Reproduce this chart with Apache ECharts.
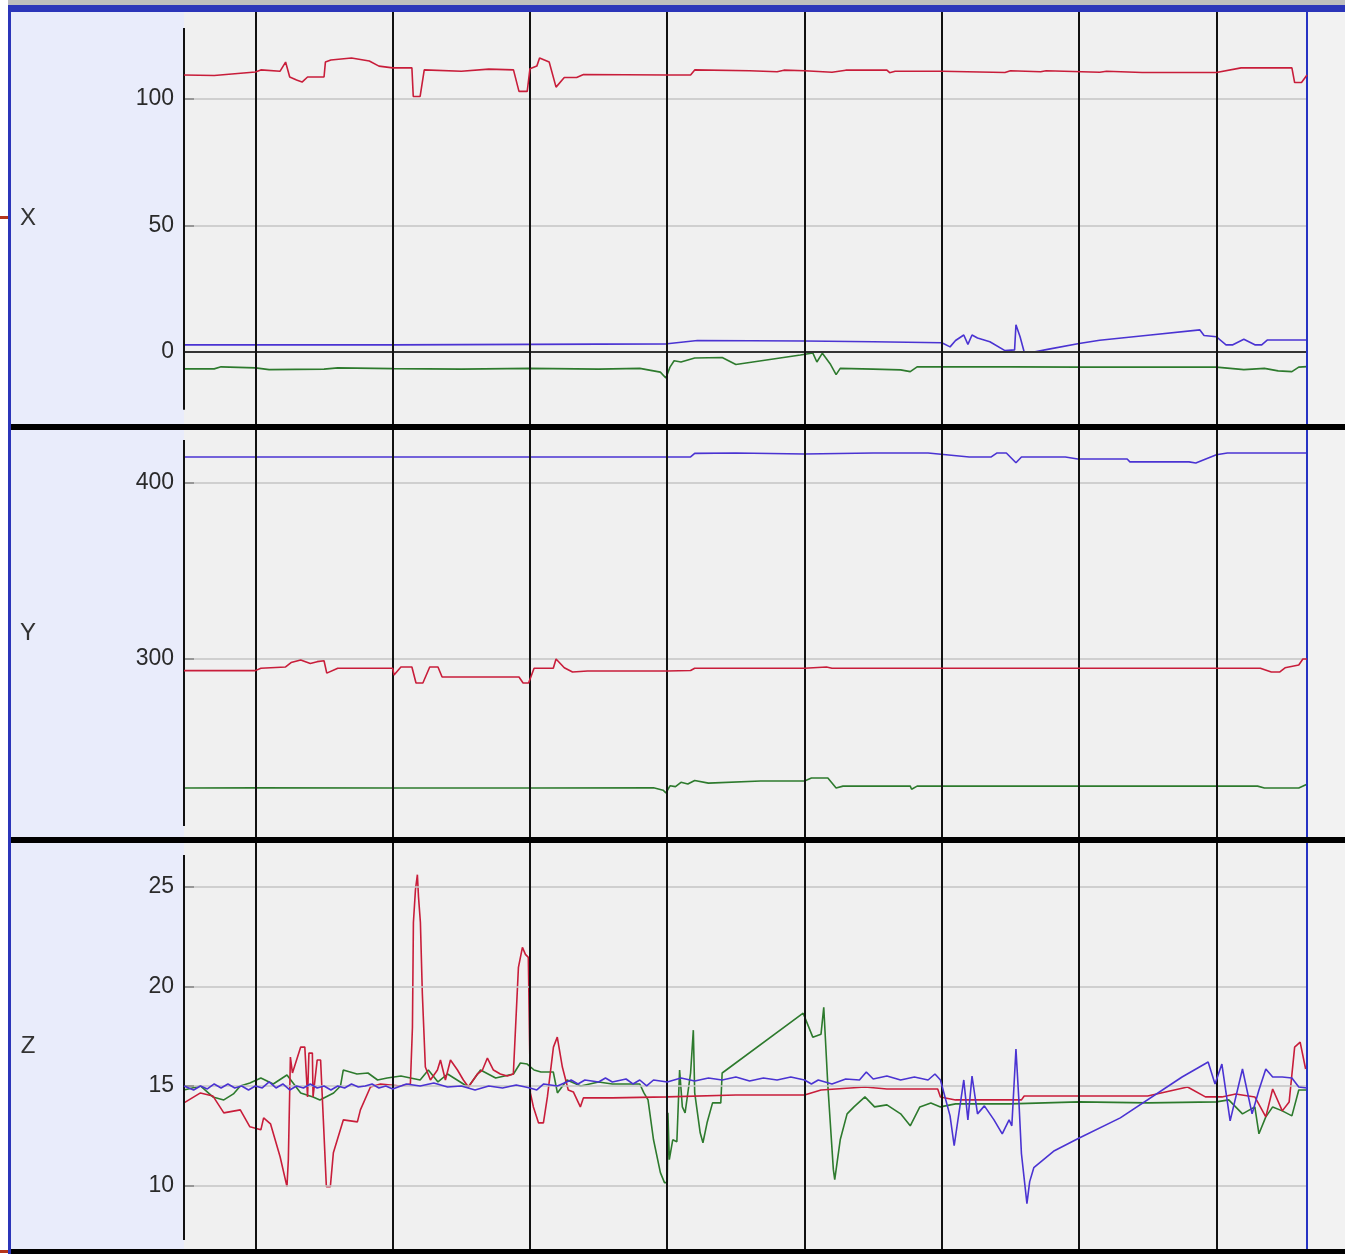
<!DOCTYPE html>
<html>
<head>
<meta charset="utf-8">
<style>
  html, body { margin: 0; padding: 0; background: #fff; }
  #chart { width: 1345px; height: 1254px; }
</style>
<script src="https://cdn.jsdelivr.net/npm/echarts@6/dist/echarts.min.js"></script>
</head>
<body>
<div id="chart"></div>
<script>
// time axis in seconds, the black marker lines sit on whole seconds
const timeMin = 0.48
const timeMax = 8.66
const markerTimes = [1, 2, 3, 4, 5, 6, 7, 8]

const panelNames = ['X', 'Y', 'Z']
const ticksX = [0, 50, 100]
const ticksY = [300, 400]
const ticksZ = [10, 15, 20, 25]

// X panel
const xRed = [[0.48,109.5],[0.7,109.3],[0.85,110],[1.0,110.7],[1.04,111.5],[1.18,111],[1.22,114.6],[1.25,108.7],[1.3,107.5],[1.34,106.7],[1.38,108.7],[1.5,108.7],[1.51,114.6],[1.55,115.4],[1.7,116.2],[1.83,115],[1.9,113],[2.0,112.3],[2.14,112.3],[2.15,101],[2.2,101],[2.23,111.5],[2.5,111],[2.7,111.8],[2.88,111.5],[2.92,103],[2.98,103],[3.0,112],[3.05,113],[3.07,116.2],[3.14,114.6],[3.19,104.7],[3.25,108.5],[3.34,108.5],[3.39,109.7],[4.0,109.5],[4.17,109.5],[4.2,111.5],[4.6,111.2],[4.8,110.8],[4.85,111.4],[5.0,111.2],[5.2,110.6],[5.3,111.4],[5.6,111.4],[5.62,110.4],[5.66,111],[6.0,111],[6.46,110.5],[6.5,111.2],[6.72,110.8],[6.76,111.2],[7.15,110.6],[7.2,111],[7.46,110.5],[8.0,110.5],[8.18,112.3],[8.55,112.3],[8.57,106.5],[8.62,106.5],[8.66,109.5]]
const xBlue = [[0.48,2.8],[2.0,2.8],[4.0,3.2],[4.22,4.5],[5.0,4.3],[5.5,4.0],[6.0,3.6],[6.06,2.0],[6.1,4.5],[6.16,6.7],[6.19,3],[6.22,6.7],[6.26,5.5],[6.35,4.0],[6.46,0.5],[6.53,0.8],[6.54,10.7],[6.57,6],[6.6,0],[6.67,0],[6.77,1],[7.0,3.3],[7.15,4.6],[7.52,6.7],[7.88,8.7],[7.91,6.5],[8.0,6.0],[8.07,2.8],[8.12,2.8],[8.2,5],[8.28,2.8],[8.33,2.8],[8.37,4.7],[8.66,4.7]]
const xGreen = [[0.48,-6.7],[0.7,-6.7],[0.75,-5.9],[1.0,-6.3],[1.1,-7],[1.5,-6.8],[1.6,-6.3],[2.0,-6.6],[2.5,-6.8],[3.0,-6.5],[3.5,-6.8],[3.8,-6.5],[3.95,-8],[3.99,-10.3],[4.02,-6],[4.05,-3.5],[4.1,-4],[4.2,-2.4],[4.4,-2.2],[4.5,-5],[4.97,-1.2],[5.06,-0.4],[5.09,-4],[5.13,-0.5],[5.19,-5],[5.23,-9],[5.26,-6.5],[5.5,-6.8],[5.7,-7.1],[5.77,-7.8],[5.82,-5.9],[6.5,-5.9],[7.0,-6],[8.0,-6],[8.2,-7],[8.35,-6.5],[8.45,-7.5],[8.55,-7.8],[8.6,-6],[8.66,-5.8]]

// Y panel
const yRed = [[0.48,293.4],[1.0,293.4],[1.04,294.8],[1.22,295.5],[1.26,298],[1.33,299.4],[1.4,297.5],[1.45,298.5],[1.5,299],[1.52,292],[1.6,294.8],[2.0,294.8],[2.01,290.9],[2.06,295.5],[2.14,295.5],[2.17,286.4],[2.22,286.4],[2.27,295.5],[2.33,295.5],[2.36,289.8],[2.92,289.8],[2.95,286.4],[2.99,286.4],[3.03,294.8],[3.17,294.8],[3.19,300],[3.25,295],[3.31,292.6],[3.42,293.2],[4.0,293.2],[4.17,293.5],[4.2,294.8],[5.0,294.8],[5.16,295.5],[5.2,294.8],[6.0,294.8],[7.0,294.8],[8.0,294.8],[8.32,294.8],[8.4,292.6],[8.46,292.6],[8.5,295],[8.6,296.6],[8.63,300],[8.66,300]]
const yBlue = [[0.48,414.8],[2.0,414.8],[3.0,414.8],[4.0,414.8],[4.17,414.8],[4.2,416.8],[4.5,417],[5.0,416.5],[5.5,417],[5.9,417],[6.2,414.8],[6.36,414.8],[6.4,417],[6.47,417],[6.54,411.5],[6.58,414.8],[6.9,414.8],[6.99,413.6],[7.35,413.6],[7.37,412],[7.8,412],[7.85,411.4],[8.0,416],[8.08,417],[8.66,417]]
const yGreen = [[0.48,226.7],[1.0,226.9],[2.0,226.7],[3.0,226.7],[3.9,226.9],[3.97,225.5],[3.99,223.9],[4.02,228],[4.06,227.5],[4.1,230],[4.15,229],[4.2,231],[4.3,229.5],[4.68,230.7],[5.0,230.7],[5.05,232.4],[5.17,232.4],[5.23,226.7],[5.28,227.8],[5.77,227.8],[5.78,226],[5.82,227.8],[8.3,227.8],[8.35,226.7],[8.6,226.7],[8.66,228.9]]

// Z panel
const zRed = [[0.48,14.15],[0.6,14.65],[0.69,14.5],[0.77,13.65],[0.89,13.8],[0.96,12.95],[1.04,12.8],[1.06,13.4],[1.11,13.1],[1.18,11.45],[1.23,9.95],[1.24,11.3],[1.255,16.45],[1.27,15.65],[1.33,16.95],[1.36,16.95],[1.38,14.45],[1.39,16.65],[1.415,16.65],[1.42,14.45],[1.45,16.3],[1.475,16.3],[1.495,13.3],[1.517,9.95],[1.546,9.95],[1.568,11.65],[1.641,13.3],[1.743,13.2],[1.765,13.8],[1.838,14.95],[1.911,15.1],[2.056,15],[2.129,15.1],[2.144,17.95],[2.151,23.2],[2.166,24.85],[2.18,25.6],[2.188,24.5],[2.202,23.2],[2.216,19.65],[2.238,15.95],[2.275,15.3],[2.326,15.8],[2.348,16.3],[2.384,15.3],[2.421,16.3],[2.472,15.8],[2.515,15.3],[2.552,14.95],[2.617,15.6],[2.654,15.8],[2.69,16.4],[2.734,15.8],[2.784,15.6],[2.835,15.5],[2.879,15.6],[2.916,20.95],[2.945,21.95],[2.967,21.6],[2.988,21.45],[3.003,14.65],[3.025,13.95],[3.062,13.15],[3.098,13.15],[3.127,14.45],[3.171,16.95],[3.199,17.45],[3.236,15.95],[3.279,14.8],[3.316,14.7],[3.367,13.95],[3.389,14.4],[3.44,14.4],[3.6,14.4],[4.0,14.45],[4.5,14.55],[5.0,14.55],[5.12,14.8],[5.44,14.95],[5.6,14.85],[5.97,14.85],[5.99,14.45],[6.1,14.3],[6.58,14.3],[6.6,14.5],[7.0,14.5],[7.5,14.5],[7.79,14.95],[7.92,14.45],[8.04,14.45],[8.14,14.6],[8.28,14.45],[8.36,13.45],[8.41,14.85],[8.48,13.75],[8.53,14.2],[8.57,16.95],[8.61,17.2],[8.65,15.85]]
const zBlue = [[0.48,15],[0.55,14.8],[0.6,15],[0.65,14.85],[0.7,15.1],[0.75,14.9],[0.8,15.1],[0.85,14.9],[0.9,15],[0.95,14.8],[1.0,15],[1.05,14.9],[1.1,15.2],[1.15,14.9],[1.2,15.1],[1.25,14.8],[1.3,15],[1.35,14.9],[1.4,15.1],[1.45,14.9],[1.5,15],[1.55,14.8],[1.6,15],[1.65,14.9],[1.7,15.1],[1.75,14.95],[1.8,15],[1.85,15.1],[1.9,14.9],[1.95,15],[2.0,14.85],[2.1,15.1],[2.2,15],[2.3,15.15],[2.4,14.95],[2.5,15],[2.6,14.8],[2.7,15],[2.8,14.9],[2.9,15.05],[3.0,14.9],[3.05,14.8],[3.1,15.1],[3.2,15],[3.3,15.3],[3.35,15.1],[3.4,15.3],[3.5,15.2],[3.55,15.4],[3.6,15.2],[3.7,15.35],[3.75,15.1],[3.8,15.3],[3.85,15],[3.9,15.3],[4.0,15.2],[4.1,15.4],[4.2,15.25],[4.3,15.4],[4.4,15.3],[4.5,15.45],[4.6,15.25],[4.7,15.4],[4.8,15.3],[4.9,15.45],[5.0,15.3],[5.05,15.1],[5.1,15.3],[5.2,15.1],[5.3,15.35],[5.4,15.3],[5.45,15.7],[5.5,15.35],[5.6,15.5],[5.7,15.3],[5.8,15.45],[5.9,15.3],[5.95,15.6],[5.99,15.3],[6.06,13.5],[6.09,12],[6.16,15.3],[6.19,13.3],[6.22,15.5],[6.26,13.6],[6.31,14],[6.38,13.3],[6.44,12.6],[6.49,13.3],[6.51,13],[6.54,16.85],[6.56,14.45],[6.58,11.6],[6.62,9.1],[6.64,10.2],[6.67,10.9],[6.82,11.75],[6.99,12.35],[7.3,13.4],[7.75,15.45],[7.94,16.2],[7.99,15.1],[8.04,16.1],[8.1,13.25],[8.19,15.85],[8.26,13.6],[8.31,14.8],[8.36,15.85],[8.41,15.45],[8.48,15.45],[8.55,15.4],[8.6,14.95],[8.66,14.9]]
const zGreen = [[0.48,14.8],[0.6,15],[0.69,14.45],[0.77,14.3],[0.84,14.6],[0.89,15],[0.96,15.15],[1.04,15.4],[1.13,15.1],[1.23,15.55],[1.28,15.1],[1.33,14.65],[1.42,14.45],[1.47,14.3],[1.57,14.65],[1.62,15],[1.64,15.8],[1.74,15.6],[1.82,15.65],[1.89,15.3],[1.96,15.4],[2.06,15.5],[2.13,15.4],[2.2,15.3],[2.26,15.8],[2.33,15.2],[2.4,15.6],[2.55,14.95],[2.64,15.8],[2.75,15.4],[2.88,15.6],[2.93,16.15],[2.98,16.1],[3.03,15.8],[3.08,15.7],[3.17,15.7],[3.2,14.65],[3.27,15.3],[3.37,15],[3.5,15.2],[3.6,15.1],[3.8,15.1],[3.83,14.65],[3.86,14.3],[3.9,12.3],[3.95,10.65],[3.98,10.15],[4.0,10.15],[4.005,13.65],[4.015,11.3],[4.04,12.3],[4.07,12.2],[4.09,15.8],[4.11,13.95],[4.13,13.65],[4.17,15.65],[4.19,17.8],[4.2,14.65],[4.24,12.65],[4.26,12.15],[4.29,13.15],[4.33,14.15],[4.39,14.15],[4.4,15.65],[4.99,18.65],[5.06,17.45],[5.12,17.6],[5.14,18.95],[5.17,15],[5.21,10.8],[5.22,10.3],[5.26,12.3],[5.31,13.6],[5.36,13.95],[5.44,14.45],[5.51,13.95],[5.6,14.05],[5.7,13.6],[5.77,13],[5.84,13.95],[5.92,14.15],[5.99,13.95],[6.1,14.1],[6.5,14.1],[7.0,14.2],[7.5,14.15],[8.0,14.2],[8.09,14.3],[8.19,13.6],[8.28,13.95],[8.31,12.6],[8.36,13.45],[8.41,13.95],[8.48,13.75],[8.55,13.5],[8.6,14.8],[8.66,14.8]]

const RED = '#c81d3a'
const BLUE = '#4a33d2'
const GREEN = '#2d7a2d'
const FONT = 'Liberation Sans, Arial, sans-serif'

// view range of each panel and the span of its drawn axis line
const panels = [
  { name: panelNames[0], ticks: ticksX, range: [-28.5, 134.4], axisSpan: [-22.9, 128.1], zero: true,
    grid: { top: 12, height: 412 }, lines: [xGreen, xBlue, xRed] },
  { name: panelNames[1], ticks: ticksY, range: [198.9, 430.1], axisSpan: [205.1, 424.4], zero: false,
    grid: { top: 430, height: 407 }, lines: [yGreen, yBlue, yRed] },
  { name: panelNames[2], ticks: ticksZ, range: [6.82, 27.19], axisSpan: [7.27, 26.59], zero: false,
    grid: { top: 843, height: 406 }, lines: [zGreen, zRed, zBlue] }
]
const lineColors = [
  [GREEN, BLUE, RED],
  [GREEN, BLUE, RED],
  [GREEN, RED, BLUE]
]

const grid = [], xAxis = [], yAxis = [], series = []

panels.forEach((p, i) => {
  grid.push({
    left: 184, right: 38, top: p.grid.top, height: p.grid.height,
    show: true, backgroundColor: '#f0f0f0', borderWidth: 0
  })
  xAxis.push({ gridIndex: i, type: 'value', min: timeMin, max: timeMax, show: false })
  yAxis.push({
    gridIndex: i, type: 'value', min: p.range[0], max: p.range[1],
    name: p.name, nameLocation: 'middle', nameGap: 156, nameRotate: 0,
    nameTextStyle: { fontSize: 24, color: '#333', fontFamily: FONT, align: 'center', verticalAlign: 'middle' },
    axisLine: { show: false },
    axisTick: { show: true, inside: true, length: 10, customValues: p.ticks, lineStyle: { color: '#111', width: 2 } },
    axisLabel: { customValues: p.ticks, fontSize: 23, color: '#2a2a2a', margin: 10, fontFamily: FONT },
    splitLine: { show: false }
  })

  const marks = []
  p.ticks.filter(v => !(p.zero && v === 0)).forEach(v => {
    marks.push({ yAxis: v, lineStyle: { color: '#c4c4c4', width: 1.5, type: 'solid' } })
  })
  if (p.zero) marks.push({ yAxis: 0, lineStyle: { color: '#333', width: 2, type: 'solid' } })
  markerTimes.forEach(t => {
    marks.push({ xAxis: t, lineStyle: { color: '#111', width: 2, type: 'solid' } })
  })
  marks.push({ xAxis: timeMax, lineStyle: { color: '#2633c4', width: 2, type: 'solid' } })
  marks.push([
    { coord: [timeMin, p.axisSpan[0]], lineStyle: { color: '#111', width: 2, type: 'solid' } },
    { coord: [timeMin, p.axisSpan[1]] }
  ])

  series.push({
    type: 'line', xAxisIndex: i, yAxisIndex: i, data: [], z: 1, silent: true,
    markLine: { silent: true, symbol: 'none', label: { show: false }, animation: false, data: marks }
  })

  p.lines.forEach((d, k) => {
    series.push({
      type: 'line', xAxisIndex: i, yAxisIndex: i, data: d, z: 3 + k,
      showSymbol: false, symbol: 'none', silent: true,
      lineStyle: { color: lineColors[i][k], width: 1.6 },
      itemStyle: { color: lineColors[i][k] }
    })
  })
})

const chart = echarts.init(document.getElementById('chart'))
chart.setOption({
  animation: false,
  backgroundColor: '#f2f2f2',
  grid, xAxis, yAxis, series,
  graphic: [
    { type: 'rect', shape: { x: 0, y: 0, width: 1345, height: 5 }, style: { fill: '#bdbdbd' }, z: 10 },
    { type: 'rect', shape: { x: 0, y: 0, width: 8, height: 1254 }, style: { fill: '#ffffff' }, z: 10 },
    { type: 'rect', shape: { x: 11, y: 12, width: 173, height: 1237 }, style: { fill: '#e9ecfb' }, z: 0 },
    { type: 'rect', shape: { x: 8, y: 5, width: 1337, height: 7 }, style: { fill: '#2b35b9' }, z: 10 },
    { type: 'rect', shape: { x: 8, y: 5, width: 3, height: 1249 }, style: { fill: '#2b35b9' }, z: 10 },
    { type: 'rect', shape: { x: 11, y: 424, width: 1334, height: 6 }, style: { fill: '#000' }, z: 10 },
    { type: 'rect', shape: { x: 11, y: 837, width: 1334, height: 6 }, style: { fill: '#000' }, z: 10 },
    { type: 'rect', shape: { x: 11, y: 1249, width: 1334, height: 5 }, style: { fill: '#000' }, z: 10 },
    { type: 'rect', shape: { x: 0, y: 216, width: 8, height: 3 }, style: { fill: '#b5361a' }, z: 11 },
    { type: 'rect', shape: { x: 0, y: 1250, width: 8, height: 3 }, style: { fill: '#b5361a' }, z: 11 }
  ]
})
</script>
</body>
</html>
